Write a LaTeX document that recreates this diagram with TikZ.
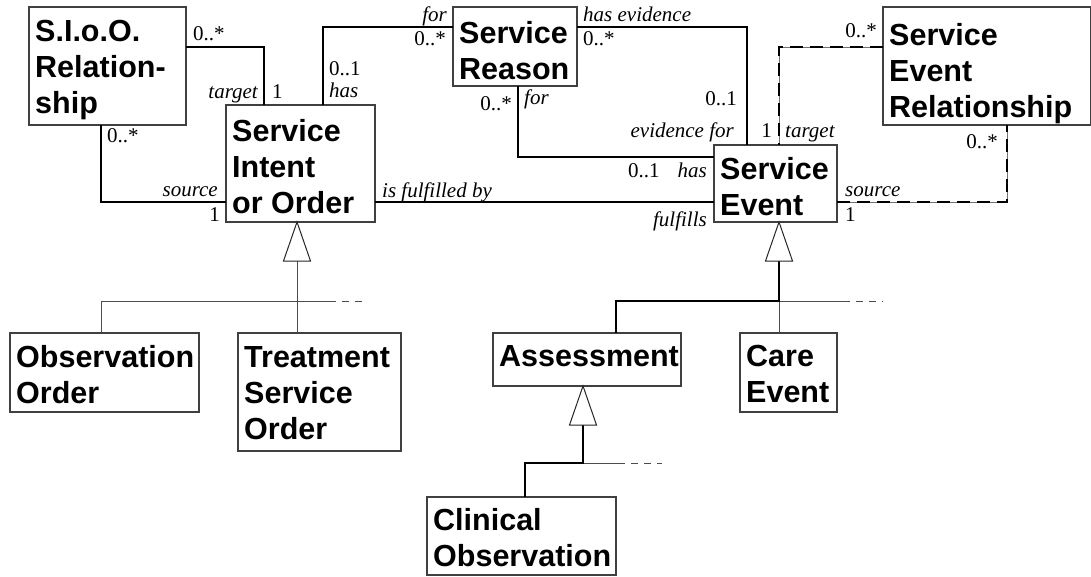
\documentclass[tikz,border=0pt]{standalone}
\usepackage{fontspec}
\setmainfont{Liberation Serif}
\newfontfamily\clsfont{Liberation Sans}
\usetikzlibrary{calc}

\tikzset{
  cls/.style={draw=black!75, line width=1.2pt, fill=white, rectangle,
    inner sep=0pt, outer sep=0pt, anchor=north west},
  clstext/.style={anchor=north west, inner sep=0pt, align=left, xshift=6pt,
    font=\clsfont\bfseries\fontsize{30.5}{36}\selectfont},
  mult/.style={inner sep=0pt, font=\fontsize{21}{25}\selectfont},
  role/.style={inner sep=0pt, font=\itshape\fontsize{21}{25}\selectfont},
  assoc/.style={draw=black, line width=2pt},
  dassoc/.style={draw=black, line width=2pt, dash pattern=on 13pt off 7pt,
    preaction={draw=black!55, line width=0.8pt, solid}},
  genthin/.style={draw=black!70, line width=1pt},
  genthick/.style={draw=black, line width=2pt},
  gentail/.style={draw=black!70, line width=1pt, dash pattern=on 7pt off 6pt},
  inherit/.pic={\draw[draw=black!85, line width=1pt, fill=white]
    (0,0) -- (-13.5,39) -- (13.5,39) -- cycle;}
}

% \classbox{name}{left}{top}{right}{bottom}{text}{text offset from top}
\newcommand\classbox[7]{%
  \node[cls, minimum width={#4-#2}, minimum height={#5-#3},
    label={[clstext, yshift=-#7]north west:{#6}}] (#1) at ({#2},{#3}) {};}

\begin{document}
\begin{tikzpicture}[x=1pt, y=-1pt]
\useasboundingbox (0,0) rectangle (1091,576);

% classes
\classbox{sioo}{29}{7}{186}{125}{S.I.o.O.\\Relation-\\ship}{13}
\classbox{sio}{226}{105}{375}{222}{Service\\Intent\\or Order}{14}
\classbox{sr}{453}{7}{577}{86}{Service\\Reason}{14}
\classbox{ser}{883}{7}{1090.3}{125}{Service\\Event\\Relationship}{16}
\classbox{se}{714}{145}{837}{222}{Service\\Event}{12}
\classbox{obs}{10}{333}{199}{412}{Observation\\Order}{12}
\classbox{tso}{238}{333}{401}{451}{Treatment\\Service\\Order}{13}
\classbox{asm}{493}{333}{681}{386}{Assessment}{12}
\classbox{ce}{740}{333}{837}{412}{Care\\Event}{12}
\classbox{clin}{427}{497}{616}{575}{Clinical\\Observation}{11}

% associations
\draw[assoc] (sioo.east |- 0,47) -| (264,0 |- sio.north);
\draw[assoc] (101,0 |- sioo.south) |- (sio.west |- 0,202);
\draw[assoc] (323,0 |- sio.north) |- (sr.west |- 0,27);
\draw[assoc] (sr.east |- 0,27) -| (747,0 |- se.north);
\draw[assoc] (518,0 |- sr.south) |- (se.west |- 0,157);
\draw[assoc] (sio.east |- 0,202) -- (se.west |- 0,202);
\draw[dassoc] (ser.west |- 0,47) -| (779,0 |- se.north);
\draw[dassoc] (se.east |- 0,202) -| (1007,0 |- ser.south);

% association ends
\node[mult, anchor=base west] (m1) at (193,40) {0..*};
\node[role, anchor=base east] (r1) at (258,98) {target};
\node[mult, anchor=base west] (m2) at (272,98) {1};
\node[mult, anchor=base west] (m3) at (107,142) {0..*};
\node[role, anchor=base east] (r2) at (218,196) {source};
\node[mult, anchor=base east] (m4) at (220,221) {1};
\node[mult, anchor=base west] (m5) at (329,75) {0..1};
\node[role, anchor=base west] (r3) at (329,97) {has};
\node[role, anchor=base east] (r4) at (447,21) {for};
\node[mult, anchor=base east] (m6) at (446,45) {0..*};
\node[role, anchor=base west] (r5) at (583,21) {has evidence};
\node[mult, anchor=base west] (m7) at (583,45) {0..*};
\node[mult, anchor=base east] (m8) at (737,105) {0..1};
\node[role, anchor=base east] (r6) at (734,137) {evidence for};
\node[mult, anchor=base east] (m9) at (512,110) {0..*};
\node[role, anchor=base west] (r7) at (524,104) {for};
\node[mult, anchor=base west] (m10) at (628,177) {0..1};
\node[role, anchor=base east] (r8) at (707,177) {has};
\node[role, anchor=base west] (r9) at (382,197) {is fulfilled by};
\node[role, anchor=base east] (r10) at (707,226) {fulfills};
\node[mult, anchor=base east] (m11) at (877,37) {0..*};
\node[mult, anchor=base east] (m12) at (772,137) {1};
\node[role, anchor=base west] (r11) at (785,137) {target};
\node[mult, anchor=base east] (m13) at (998,148) {0..*};
\node[role, anchor=base west] (r12) at (845,196) {source};
\node[mult, anchor=base west] (m14) at (845,221) {1};

% generalisation of Service Intent or Order
\draw[genthin] (297,261) -- (297,0 |- tso.north);
\draw[genthin] (101,0 |- obs.north) |- (329,301);
\draw[gentail] (329,301) -- (368,301);
\pic at (297,0 |- sio.south) {inherit};

% generalisation of Service Event
\draw[genthin] (779,301) -- (779,0 |- ce.north);
\draw[genthin] (779,301) -- (843,301);
\draw[gentail] (843,301) -- (883,301);
\draw[genthick] (779,261) -- (779,301) -| (616,0 |- asm.north);
\pic at (779,0 |- se.south) {inherit};

% generalisation of Assessment
\draw[genthin] (583,463) -- (618,463);
\draw[gentail] (618,463) -- (662,463);
\draw[genthick] (583,424) -- (583,463) -| (525,0 |- clin.north);
\pic at (583,0 |- asm.south) {inherit};
\end{tikzpicture}
\end{document}
